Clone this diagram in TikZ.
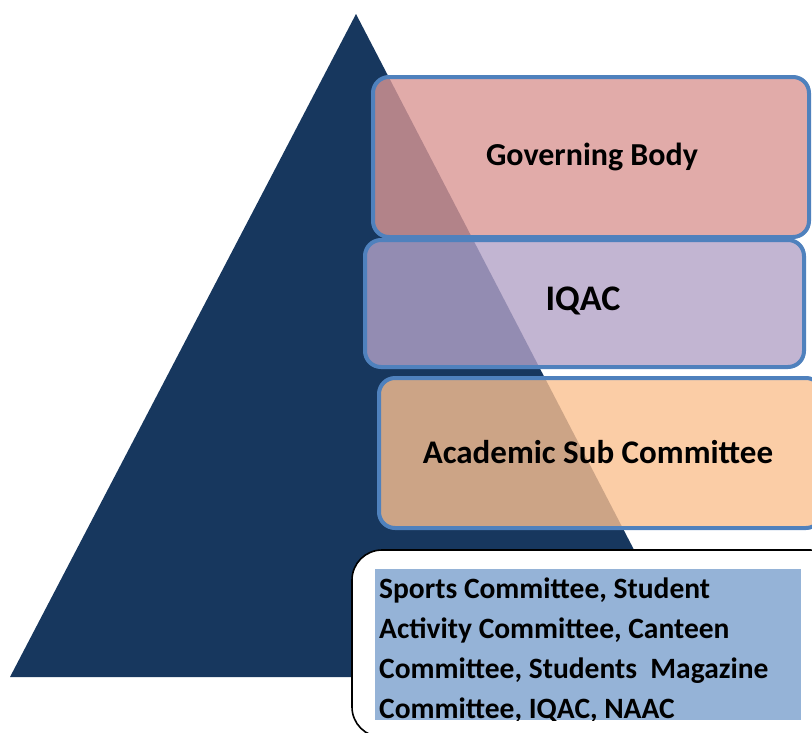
\documentclass[tikz,border=0pt]{standalone}
\usepackage{fontspec}
\setmainfont{Carlito}
\begin{document}
\begin{tikzpicture}[x=1pt,y=-1pt,
  tier/.style={draw=blueborder,line width=4pt,rounded corners=16pt,fill opacity=0.8},
  lbl/.style={font=\bfseries\fontsize{32}{36}\selectfont,text=black},
  listline/.style={anchor=base west,inner sep=0pt,font=\bfseries\fontsize{29.5}{36}\selectfont}]
\definecolor{navy}{HTML}{17375E}
\definecolor{blueborder}{HTML}{4F81BD}
\definecolor{pinkf}{HTML}{D99694}
\definecolor{lavf}{HTML}{B3A2C7}
\definecolor{peachf}{HTML}{FAC090}
\definecolor{lightb}{HTML}{95B3D7}
\useasboundingbox (0,0) rectangle (812,732);
\fill[navy] (356,14) coordinate (apex) -- (700,677) coordinate (br) -- (10,677) coordinate (bl) -- cycle;
\draw[tier,fill=pinkf] (373,77) rectangle (809,237);
\node[lbl] (gb) at (592,157) {Governing Body};
\draw[tier,fill=lavf] (365,240) rectangle (804,367);
\node[lbl,font=\bfseries\fontsize{36}{40}\selectfont] (iqac) at (583,301) {IQAC};
\draw[tier,fill=peachf] (379,378) rectangle (822,528);
\node[lbl,font=\bfseries\fontsize{33}{36}\selectfont] (asc) at (598,452) {Academic Sub Committee};
\draw[black,line width=1.6pt,fill=white,rounded corners=30pt] (352,550) rectangle (840,737);
\fill[lightb] (375,569) rectangle (801,720);
\begin{scope}
\clip (375,569) rectangle (801,720);
\node[listline] (l1) at (379,598) {Sports Committee, Student};
\node[listline] (l2) at (379,638) {Activity Committee, Canteen};
\node[listline] (l3) at (379,678) {Committee, Students~ Magazine};
\node[listline] (l4) at (379,718) {Committee, IQAC, NAAC};
\end{scope}
\end{tikzpicture}
\end{document}
